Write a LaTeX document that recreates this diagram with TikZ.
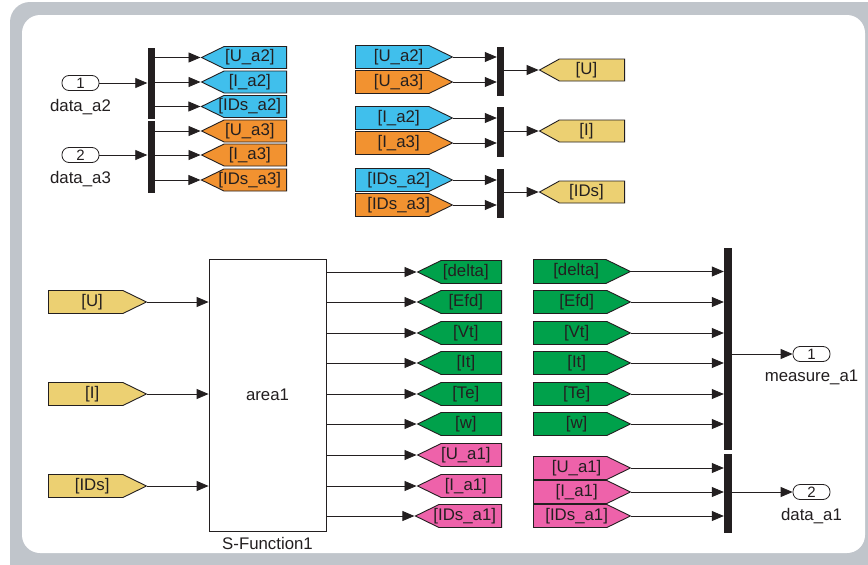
\documentclass[tikz,border=0pt]{standalone}
\usepackage{fontspec}
\setmainfont{Liberation Sans}
\usepackage{tikz}
\usetikzlibrary{arrows.meta,positioning,shapes.symbols}
\definecolor{ink}{RGB}{35,31,32}
\definecolor{framegray}{RGB}{192,197,203}
\definecolor{tagcyan}{RGB}{64,191,236}
\definecolor{tagorange}{RGB}{242,146,48}
\definecolor{tagkhaki}{RGB}{236,208,114}
\definecolor{taggreen}{RGB}{0,161,75}
\definecolor{tagpink}{RGB}{238,98,170}
\newcommand{\blocktext}{\fontsize{16.8}{18}\selectfont}
\newcommand{\porttext}{\fontsize{15}{15}\selectfont}
\tikzset{
  sig/.style={-{Triangle[length=12pt,width=10pt]},line width=0.8pt,draw=ink},
  busbar/.style={fill=ink,draw=none,minimum width=7pt,inner sep=0pt},
  port/.style={draw=ink,line width=0.8pt,rounded corners=7pt,minimum width=37pt,minimum height=15pt,inner sep=0pt,font=\porttext,text=ink},
  portlabel/.style={inner sep=0pt,font=\blocktext,text=ink},
  textshift/.style={execute at begin node={\hspace*{#1}},execute at end node={\hspace*{-#1}}},
  fromtag/.style={signal,signal to=east,signal pointer angle=52,draw=ink,line width=0.9pt,fill=#1,minimum height=23pt,inner sep=0pt,font=\blocktext,text=ink,anchor=west,textshift=6.5pt},
  gototag/.style={signal,signal to=west,signal pointer angle=52,draw=ink,line width=0.9pt,fill=#1,minimum height=22pt,inner sep=0pt,font=\blocktext,text=ink,anchor=east,textshift=-5.5pt},
  sfun/.style={draw=ink,line width=0.8pt,fill=white,minimum width=117pt,minimum height=272pt,font=\blocktext,text=ink}
}
\begin{document}
\begin{tikzpicture}[x=1pt,y=-1pt]
  \useasboundingbox (0,0) rectangle (868,565);
  \fill[framegray,rounded corners=20pt] (10,2) rectangle (890,590);
  \fill[white,rounded corners=18pt] (22,15) rectangle (865,553);

  % demux of the two incoming areas
  \node[port] (in1) at (80.5,83) {1};
  \node[portlabel,below=8pt of in1] (in1lbl) {data\_a2};
  \node[port] (in2) at (80.5,155) {2};
  \node[portlabel,below=8pt of in2] (in2lbl) {data\_a3};
  \node[busbar,minimum height=71pt] (dmx2) at (151,83.5) {};
  \node[busbar,minimum height=72pt] (dmx3) at (151,157) {};
  \node[gototag=tagcyan,minimum width=85pt] (gua2) at (287,57.5) {[U\_a2]};
  \node[gototag=tagcyan,minimum width=85pt] (gia2) at (287,82) {[I\_a2]};
  \node[gototag=tagcyan,minimum width=85pt] (gidsa2) at (287,106.5) {[IDs\_a2]};
  \node[gototag=tagorange,minimum width=85pt] (gua3) at (287,131) {[U\_a3]};
  \node[gototag=tagorange,minimum width=85pt] (gia3) at (287,155) {[I\_a3]};
  \node[gototag=tagorange,minimum width=85pt] (gidsa3) at (287,180) {[IDs\_a3]};
  \draw[sig] (in1.east) -- (in1.east -| dmx2.west);
  \draw[sig] (in2.east) -- (in2.east -| dmx3.west);
  \draw[sig] (dmx2.east |- gua2.west) -- (gua2.west);
  \draw[sig] (dmx2.east |- gia2.west) -- (gia2.west);
  \draw[sig] (dmx2.east |- gidsa2.west) -- (gidsa2.west);
  \draw[sig] (dmx3.east |- gua3.west) -- (gua3.west);
  \draw[sig] (dmx3.east |- gia3.west) -- (gia3.west);
  \draw[sig] (dmx3.east |- gidsa3.west) -- (gidsa3.west);

  % mux of U, I, IDs
  \node[fromtag=tagcyan,minimum width=97pt] (fua2) at (355,57) {[U\_a2]};
  \node[fromtag=tagorange,minimum width=97pt] (fua3) at (355,82) {[U\_a3]};
  \node[fromtag=tagcyan,minimum width=97pt] (fia2) at (355,118) {[I\_a2]};
  \node[fromtag=tagorange,minimum width=97pt] (fia3) at (355,143) {[I\_a3]};
  \node[fromtag=tagcyan,minimum width=97pt] (fidsa2) at (355,180) {[IDs\_a2]};
  \node[fromtag=tagorange,minimum width=97pt] (fidsa3) at (355,205) {[IDs\_a3]};
  \node[busbar,minimum height=49pt] (muxu) at (500.5,71.5) {};
  \node[busbar,minimum height=50pt] (muxi) at (500.5,132) {};
  \node[busbar,minimum height=49pt] (muxids) at (500.5,193.5) {};
  \node[gototag=tagkhaki,minimum width=85pt,signal pointer angle=58] (gu) at (625,70) {[U]};
  \node[gototag=tagkhaki,minimum width=85pt,signal pointer angle=58] (gi) at (625,131) {[I]};
  \node[gototag=tagkhaki,minimum width=85pt,signal pointer angle=58] (gids) at (625,192) {[IDs]};
  \draw[sig] (fua2.east) -- (fua2.east -| muxu.west);
  \draw[sig] (fua3.east) -- (fua3.east -| muxu.west);
  \draw[sig] (fia2.east) -- (fia2.east -| muxi.west);
  \draw[sig] (fia3.east) -- (fia3.east -| muxi.west);
  \draw[sig] (fidsa2.east) -- (fidsa2.east -| muxids.west);
  \draw[sig] (fidsa3.east) -- (fidsa3.east -| muxids.west);
  \draw[sig] (muxu.east |- gu.west) -- (gu.west);
  \draw[sig] (muxi.east |- gi.west) -- (gi.west);
  \draw[sig] (muxids.east |- gids.west) -- (gids.west);

  % area model
  \node[fromtag=tagkhaki,minimum width=98pt] (fu) at (48,302) {[U]};
  \node[fromtag=tagkhaki,minimum width=98pt] (fi) at (48,394) {[I]};
  \node[fromtag=tagkhaki,minimum width=98pt] (fids) at (48,486) {[IDs]};
  \node[sfun] (area) at (267.5,395) {area1};
  \node[portlabel,below=6pt of area] (arealbl) {S-Function1};
  \draw[sig] (fu.east) -- (fu.east -| area.west);
  \draw[sig] (fi.east) -- (fi.east -| area.west);
  \draw[sig] (fids.east) -- (fids.east -| area.west);
  \node[gototag=taggreen,minimum width=84pt,minimum height=23pt] (gdelta) at (502,272) {[delta]};
  \node[gototag=taggreen,minimum width=84pt,minimum height=23pt] (gefd) at (502,302) {[Efd]};
  \node[gototag=taggreen,minimum width=84pt,minimum height=23pt] (gvt) at (502,333) {[Vt]};
  \node[gototag=taggreen,minimum width=84pt,minimum height=23pt] (git) at (502,363) {[It]};
  \node[gototag=taggreen,minimum width=84pt,minimum height=23pt] (gte) at (502,394) {[Te]};
  \node[gototag=taggreen,minimum width=84pt,minimum height=23pt] (gw) at (502,424) {[w]};
  \node[gototag=tagpink,minimum width=84pt,minimum height=23pt] (gua1) at (502,455) {[U\_a1]};
  \node[gototag=tagpink,minimum width=84pt,minimum height=23pt] (gia1) at (502,486) {[I\_a1]};
  \node[gototag=tagpink,minimum width=84pt,minimum height=23pt] (gidsa1) at (502,516) {[IDs\_a1]};
  \draw[sig] (area.east |- gdelta.west) -- (gdelta.west);
  \draw[sig] (area.east |- gefd.west) -- (gefd.west);
  \draw[sig] (area.east |- gvt.west) -- (gvt.west);
  \draw[sig] (area.east |- git.west) -- (git.west);
  \draw[sig] (area.east |- gte.west) -- (gte.west);
  \draw[sig] (area.east |- gw.west) -- (gw.west);
  \draw[sig] (area.east |- gua1.west) -- (gua1.west);
  \draw[sig] (area.east |- gia1.west) -- (gia1.west);
  \draw[sig] (area.east |- gidsa1.west) -- (gidsa1.west);

  % outputs of area1
  \node[fromtag=taggreen,minimum width=97pt,minimum height=24pt] (fdelta) at (533,271.5) {[delta]};
  \node[fromtag=taggreen,minimum width=97pt] (fefd) at (533,302) {[Efd]};
  \node[fromtag=taggreen,minimum width=97pt] (fvt) at (533,333) {[Vt]};
  \node[fromtag=taggreen,minimum width=97pt] (fit) at (533,363) {[It]};
  \node[fromtag=taggreen,minimum width=97pt] (fte) at (533,394) {[Te]};
  \node[fromtag=taggreen,minimum width=97pt] (fw) at (533,424) {[w]};
  \node[fromtag=tagpink,minimum width=97pt] (fua1) at (533,468) {[U\_a1]};
  \node[fromtag=tagpink,minimum width=97pt] (fia1) at (533,492) {[I\_a1]};
  \node[fromtag=tagpink,minimum width=97pt] (fidsa1) at (533,516) {[IDs\_a1]};
  \node[busbar,minimum width=8pt,minimum height=202pt] (muxmeas) at (728,349) {};
  \node[busbar,minimum width=8pt,minimum height=79pt] (muxdata) at (728,493.5) {};
  \draw[sig] (fdelta.east) -- (fdelta.east -| muxmeas.west);
  \draw[sig] (fefd.east) -- (fefd.east -| muxmeas.west);
  \draw[sig] (fvt.east) -- (fvt.east -| muxmeas.west);
  \draw[sig] (fit.east) -- (fit.east -| muxmeas.west);
  \draw[sig] (fte.east) -- (fte.east -| muxmeas.west);
  \draw[sig] (fw.east) -- (fw.east -| muxmeas.west);
  \draw[sig] (fua1.east) -- (fua1.east -| muxdata.west);
  \draw[sig] (fia1.east) -- (fia1.east -| muxdata.west);
  \draw[sig] (fidsa1.east) -- (fidsa1.east -| muxdata.west);
  \node[port] (out1) at (811.5,354) {1};
  \node[portlabel,below=8pt of out1] (out1lbl) {measure\_a1};
  \node[port] (out2) at (811.5,492) {2};
  \node[portlabel,below=8pt of out2] (out2lbl) {data\_a1};
  \draw[sig] (out1.west -| muxmeas.east) -- (out1.west);
  \draw[sig] (out2.west -| muxdata.east) -- (out2.west);
\end{tikzpicture}
\end{document}
